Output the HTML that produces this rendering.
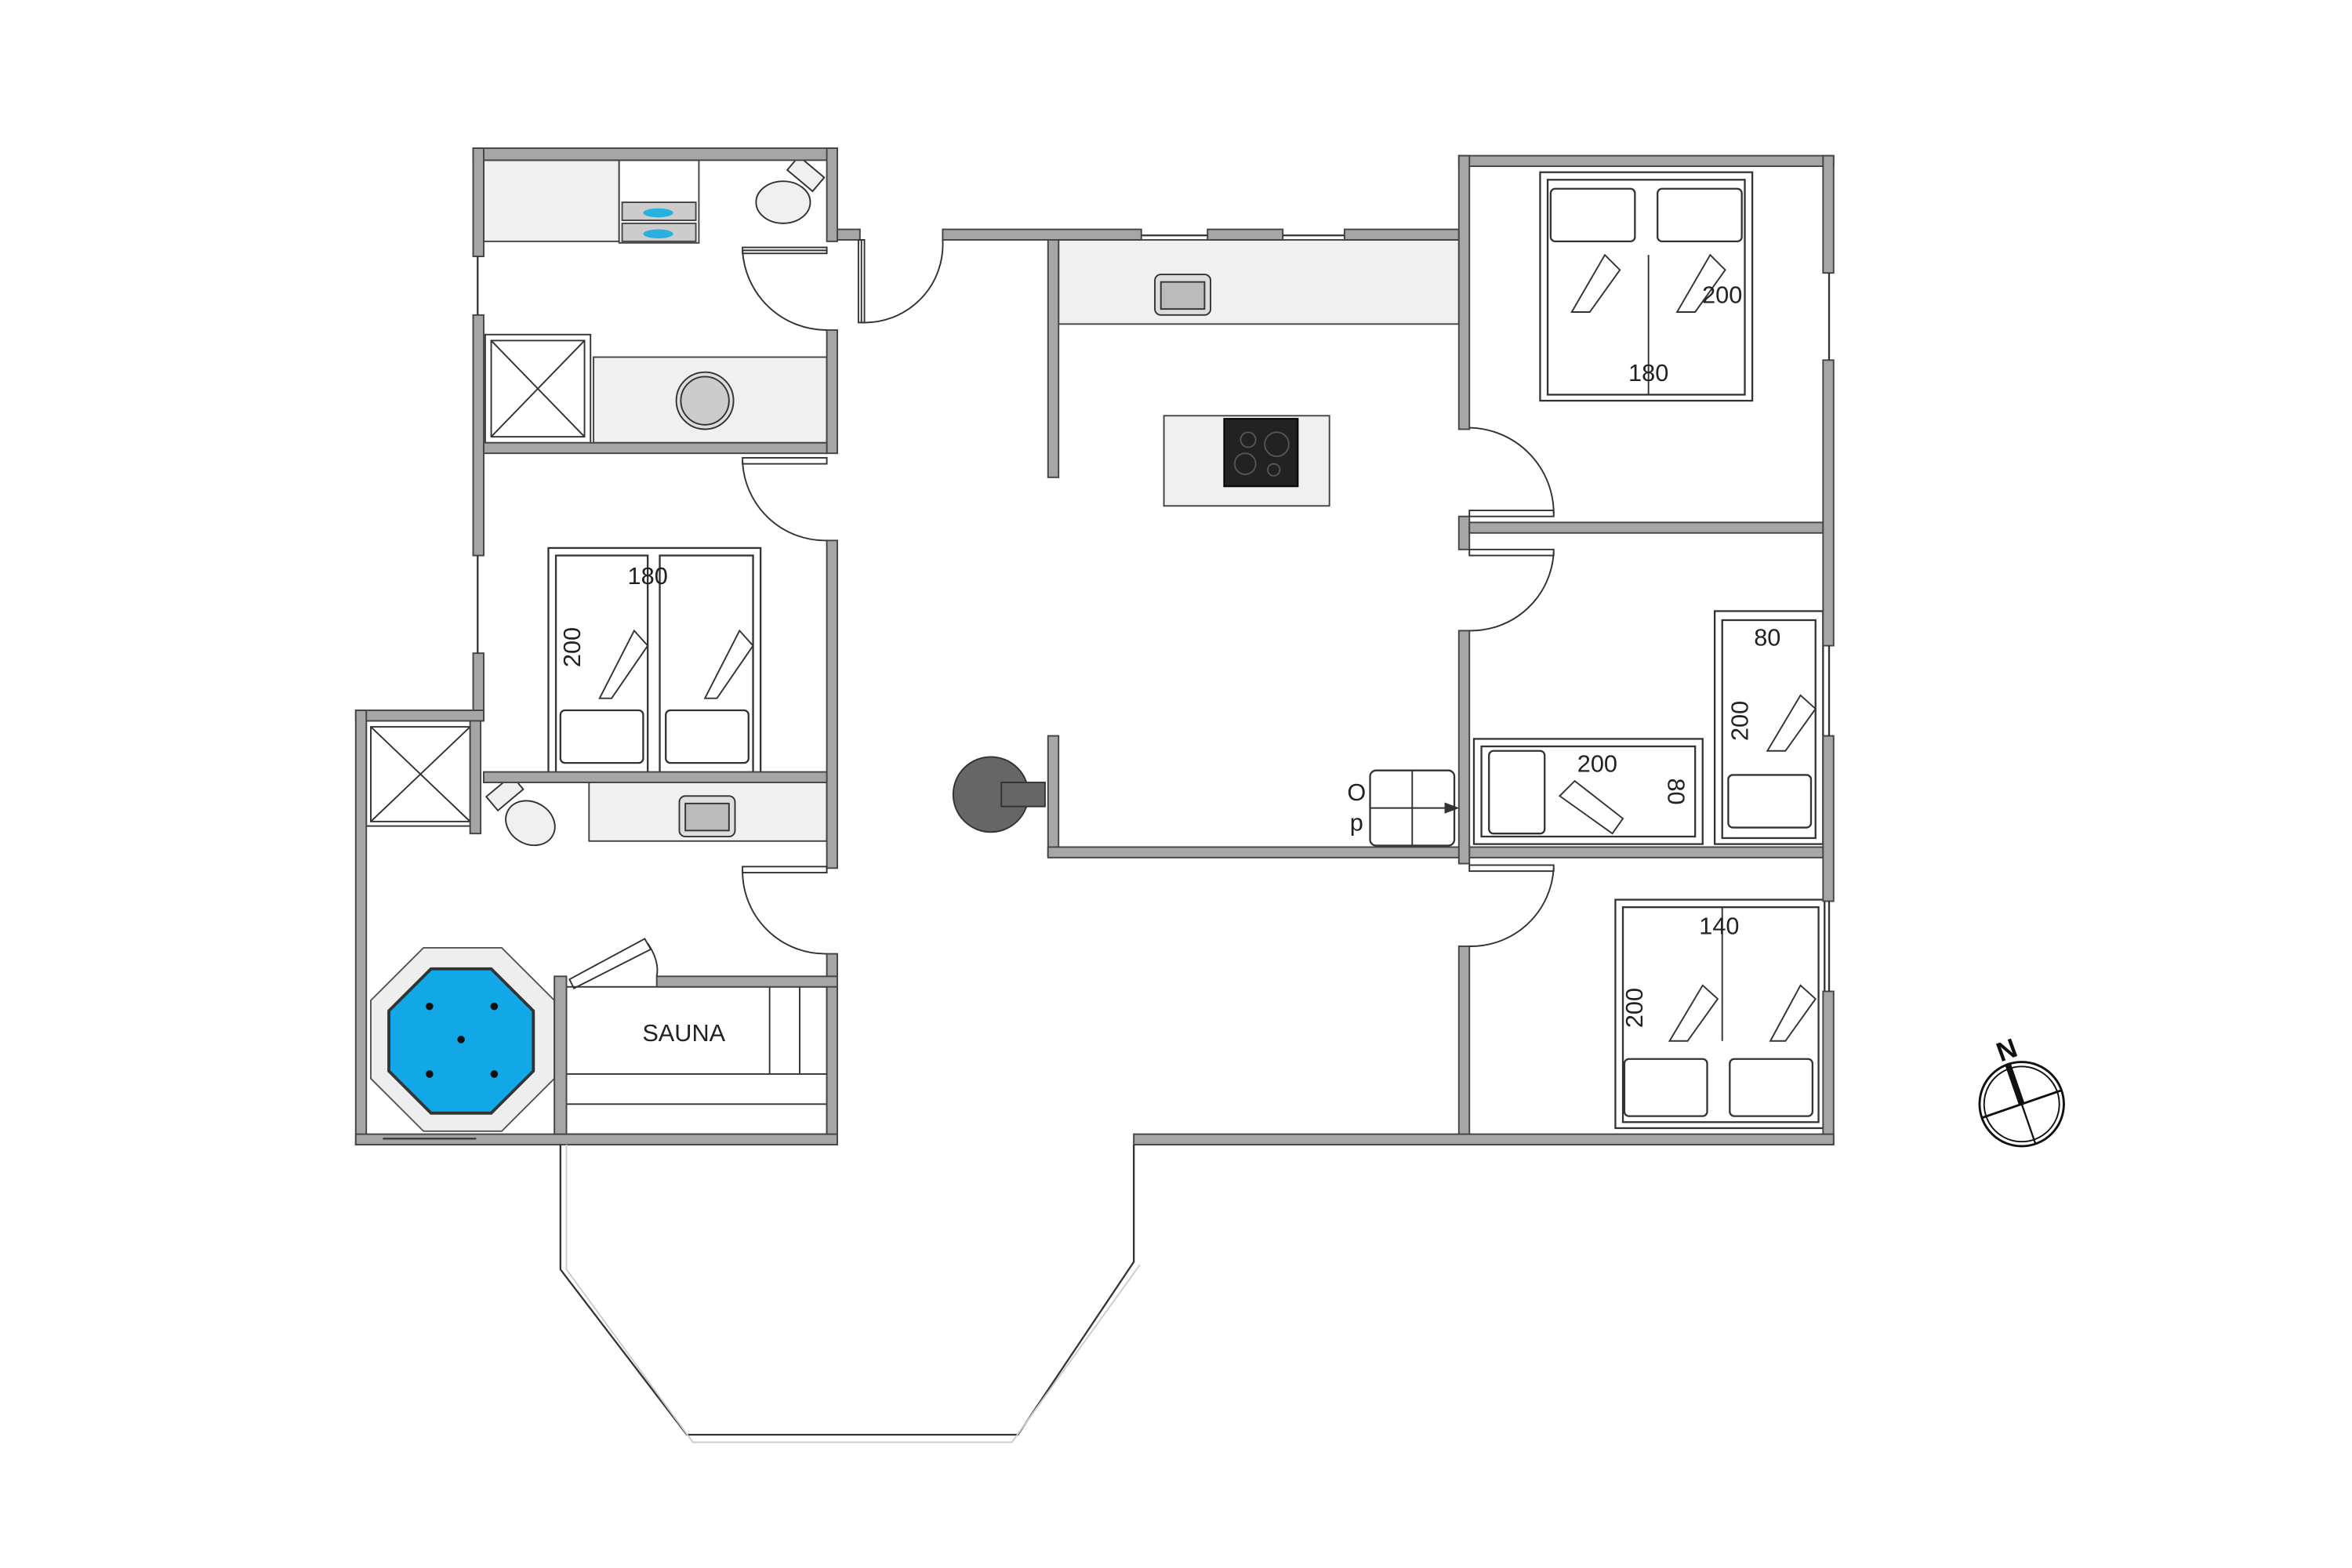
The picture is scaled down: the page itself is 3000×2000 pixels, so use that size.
<!DOCTYPE html>
<html><head><meta charset="utf-8"><style>html,body{margin:0;padding:0;background:#fff}svg{display:block}</style></head>
<body>
<svg width="3000" height="2000" viewBox="0 0 1556 1037" preserveAspectRatio="none" xmlns="http://www.w3.org/2000/svg" font-family="Liberation Sans, sans-serif">
<g transform="scale(0.9956 0.994) translate(-3.6 -0.4)">
<g fill="#f0f0f0" stroke="#444" stroke-width="1">
<rect x="325" y="107" width="90" height="54"/>
<rect x="398" y="238" width="155" height="57"/>
<rect x="707" y="160" width="266" height="56"/>
<rect x="777" y="277" width="110" height="60"/>
<rect x="395" y="520" width="158" height="40"/>
</g>
<rect x="415" y="107" width="53" height="55" fill="#fff" stroke="#444"/>
<rect x="417" y="135" width="49" height="12" fill="#ccc" stroke="#444"/>
<rect x="417" y="149" width="49" height="12" fill="#ccc" stroke="#444"/>
<ellipse cx="441" cy="142" rx="10" ry="3" fill="#2ab0e0"/><ellipse cx="441" cy="156" rx="10" ry="3" fill="#2ab0e0"/>
<g fill="#f0f0f0" stroke="#333"><ellipse cx="524" cy="135" rx="18" ry="14"/><rect x="528" y="110" width="22" height="12" transform="rotate(40 539 116)"/>
<ellipse cx="356" cy="548" rx="17" ry="14" transform="rotate(30 356 548)"/><rect x="328" y="522" width="22" height="12" transform="rotate(-40 339 528)"/></g>
<g fill="#fff" stroke="#333"><rect x="326" y="223" width="70" height="72"/><rect x="330" y="227" width="62" height="64"/>
<path d="M330 227L392 291M392 227L330 291"/>
<rect x="247" y="480" width="72" height="70"/><rect x="250" y="484" width="66" height="63"/><path d="M250 484L316 547M316 484L250 547"/></g>
<circle cx="472" cy="267" r="19" fill="#ddd" stroke="#333"/><circle cx="472" cy="267" r="16" fill="#ccc" stroke="#333"/>
<rect x="455" y="530" width="37" height="27" rx="4" fill="#ddd" stroke="#333"/><rect x="459" y="535" width="29" height="18" fill="#bbb" stroke="#333"/>
<rect x="771" y="183" width="37" height="27" rx="4" fill="#ddd" stroke="#333"/><rect x="775" y="188" width="29" height="18" fill="#bbb" stroke="#333"/>
<rect x="817" y="279" width="49" height="45" fill="#222" stroke="#000"/>
<g fill="none" stroke="#555"><circle cx="833" cy="293" r="5"/><circle cx="852" cy="296" r="8"/><circle cx="831" cy="309" r="7"/><circle cx="850" cy="313" r="4"/></g>
<circle cx="662" cy="529" r="25" fill="#666" stroke="#333"/><rect x="669" y="521" width="29" height="16" fill="#666" stroke="#333"/>
<g fill="#fff" stroke="#333" stroke-width="1.2">
<rect x="368" y="365" width="141" height="150"/><rect x="373" y="370" width="61" height="145"/><rect x="442" y="370" width="62" height="145"/>
<rect x="376" y="473" width="55" height="35" rx="3"/><rect x="446" y="473" width="55" height="35" rx="3"/>
<rect x="1027" y="115" width="141" height="152"/><rect x="1032" y="120" width="131" height="143"/>
<rect x="1034" y="126" width="56" height="35" rx="3"/><rect x="1105" y="126" width="56" height="35" rx="3"/>
<rect x="1143" y="407" width="72" height="155"/><rect x="1148" y="413" width="62" height="145"/><rect x="1152" y="516" width="55" height="35" rx="3"/>
<rect x="983" y="492" width="152" height="70"/><rect x="988" y="497" width="142" height="60"/><rect x="993" y="500" width="37" height="55" rx="3"/>
<rect x="1077" y="599" width="139" height="152"/><rect x="1082" y="604" width="130" height="143"/>
<rect x="1083" y="705" width="55" height="38" rx="3"/><rect x="1153" y="705" width="55" height="38" rx="3"/>
<rect x="914" y="513" width="56" height="50" rx="4"/>
</g>
<g fill="#fff" stroke="#333"><path d="M402 465L425 420L434 430L410 465Z"/><path d="M472 465L495 420L504 430L480 465Z"/>
<path d="M1048 208L1070 170L1080 180L1060 208Z"/><path d="M1118 208L1140 170L1150 180L1130 208Z"/>
<path d="M1178 500L1200 463L1210 472L1190 500Z"/><path d="M1040 530L1075 555L1082 545L1050 520Z"/>
<path d="M1113 693L1135 656L1145 665L1125 693Z"/><path d="M1180 693L1200 656L1210 665L1190 693Z"/>
<line x1="1099" y1="170" x2="1099" y2="263"/><line x1="1148" y1="604" x2="1148" y2="693"/></g>
<g font-size="16" fill="#222">
<text x="434" y="389" text-anchor="middle">180</text>
<text x="389" y="431" text-anchor="middle" transform="rotate(-90 389 431)">200</text>
<text x="1148" y="202" text-anchor="middle">200</text>
<text x="1099" y="254" text-anchor="middle">180</text>
<text x="1178" y="430" text-anchor="middle">80</text>
<text x="1165" y="480" text-anchor="middle" transform="rotate(-90 1165 480)">200</text>
<text x="1065" y="514" text-anchor="middle">200</text>
<text x="1112" y="527" text-anchor="middle" transform="rotate(90 1112 527)">80</text>
<text x="1146" y="622" text-anchor="middle">140</text>
<text x="1095" y="671" text-anchor="middle" transform="rotate(-90 1095 671)">200</text>
<text x="905" y="533" text-anchor="middle">O</text><text x="905" y="553" text-anchor="middle">p</text>
<text x="458" y="693" text-anchor="middle">SAUNA</text>
</g>
<polygon points="285,631 337,631 372,666 372,718 337,753 285,753 250,718 250,666" fill="#eee" stroke="#555"/>
<polygon points="290,645 330,645 358,673 358,713 330,741 290,741 262,713 262,673" fill="#12a8e8" stroke="#333" stroke-width="2"/>
<g fill="#111"><circle cx="289" cy="670" r="2.5"/><circle cx="332" cy="670" r="2.5"/><circle cx="310" cy="692" r="2.5"/><circle cx="289" cy="715" r="2.5"/><circle cx="332" cy="715" r="2.5"/></g>
<g fill="none" stroke="#333"><rect x="380" y="657" width="173" height="98"/><line x1="380" y1="715" x2="553" y2="715"/><line x1="380" y1="735" x2="553" y2="735"/><line x1="515" y1="657" x2="515" y2="715"/><line x1="535" y1="657" x2="535" y2="715"/></g>
<g fill="#a6a6a6" stroke="#444" stroke-width="1">
<rect x="318" y="99" width="242" height="8"/>
<rect x="553" y="99" width="7" height="62"/><rect x="553" y="220" width="7" height="82"/><rect x="553" y="360" width="7" height="218"/><rect x="553" y="635" width="7" height="127"/>
<rect x="318" y="99" width="7" height="72"/><rect x="318" y="210" width="7" height="160"/><rect x="318" y="435" width="7" height="45"/>
<rect x="325" y="295" width="228" height="7"/><rect x="325" y="514" width="228" height="7"/>
<rect x="240" y="473" width="85" height="7"/><rect x="240" y="473" width="7" height="289"/><rect x="316" y="480" width="7" height="75"/>
<rect x="240" y="755" width="320" height="7"/><rect x="372" y="650" width="8" height="105"/><rect x="440" y="650" width="120" height="7"/>
<rect x="560" y="153" width="15" height="7"/><rect x="630" y="153" width="132" height="7"/><rect x="806" y="153" width="50" height="7"/><rect x="897" y="153" width="76" height="7"/>
<rect x="700" y="160" width="7" height="158"/><rect x="700" y="490" width="7" height="80"/><rect x="700" y="564" width="515" height="7"/>
<rect x="973" y="104" width="249" height="7"/><rect x="973" y="104" width="7" height="182"/><rect x="973" y="344" width="7" height="22"/><rect x="973" y="420" width="7" height="155"/><rect x="973" y="630" width="7" height="132"/>
<rect x="980" y="348" width="235" height="7"/>
<rect x="1215" y="104" width="7" height="78"/><rect x="1215" y="240" width="7" height="190"/><rect x="1215" y="490" width="7" height="110"/><rect x="1215" y="660" width="7" height="102"/>
<rect x="757" y="755" width="465" height="7"/>
</g>
<g stroke="#333" stroke-width="1.2" fill="none">
<line x1="321" y1="171" x2="321" y2="210"/><line x1="321" y1="370" x2="321" y2="435"/>
<line x1="762" y1="157" x2="806" y2="157"/><line x1="856" y1="157" x2="897" y2="157"/>
<line x1="1219" y1="182" x2="1219" y2="240"/><line x1="1219" y1="430" x2="1219" y2="490"/><line x1="1219" y1="600" x2="1219" y2="660"/>
<line x1="258" y1="758" x2="320" y2="758"/>
<polyline points="376,762 376,845 460,955 680,955 757,840 757,762"/>
</g>
<g stroke="#ccc" stroke-width="1" fill="none"><polyline points="380,762 380,845 464,960 676,960 761,842"/></g>
<g fill="none" stroke="#333" stroke-width="1">
<path d="M497 167L553 167M497 167A56 56 0 0 0 553 220"/><rect x="497" y="165" width="56" height="4"/>
<path d="M576 160V215A52 52 0 0 0 630 160"/><rect x="574" y="160" width="4" height="55"/>
<rect x="497" y="305" width="56" height="4"/><path d="M497 307A55 55 0 0 0 553 360"/>
<rect x="497" y="577" width="56" height="4"/><path d="M497 579A55 55 0 0 0 553 635"/>
<rect x="980" y="340" width="56" height="4"/><path d="M980 285A57 57 0 0 1 1036 342"/>
<rect x="980" y="366" width="56" height="4"/><path d="M1036 368A55 55 0 0 1 980 420"/>
<rect x="980" y="576" width="56" height="4"/><path d="M1036 578A55 55 0 0 1 980 630"/>
<path d="M382 652L432 625L436 632L385 658Z"/><path d="M434 628Q442 640 440 650"/>
<line x1="914" y1="538" x2="970" y2="538"/><polygon points="964,535 972,538 964,541" fill="#333"/>
<line x1="942" y1="513" x2="942" y2="563"/>
</g>
<g transform="translate(1347 735)" fill="none" stroke="#111">
<circle r="28" stroke-width="1.5"/><circle r="25"/>
<line x1="-26" y1="9" x2="26" y2="-9" stroke-width="1.5"/><line x1="-9" y1="-26" x2="9" y2="26" stroke-width="1.2"/>
<line x1="-9" y1="-26" x2="0" y2="0" stroke-width="4"/>
<text x="-14" y="-28" font-size="18" font-weight="bold" fill="#111" stroke="none" transform="rotate(-20 -14 -28)">N</text>
</g>
</g>
</svg>
</body></html>
